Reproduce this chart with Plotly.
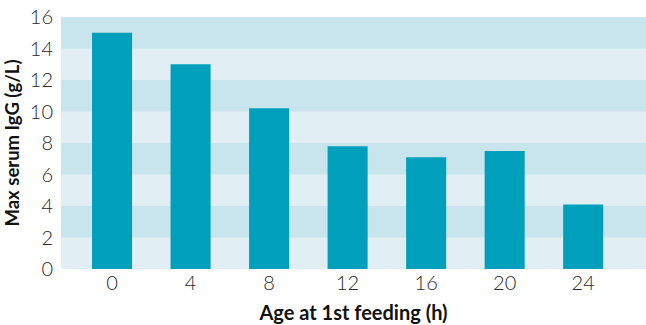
import plotly.graph_objects as go

ages = [0, 4, 8, 12, 16, 20, 24]
igg = [15.0, 13.0, 10.2, 7.8, 7.1, 7.5, 4.1]
y_ticks = [0, 2, 4, 6, 8, 10, 12, 14, 16]

bar_color = "#00a0bd"
band_dark = "#c8e4ec"
band_light = "#e1eff4"

fig = go.Figure()
fig.add_trace(go.Bar(x=ages, y=igg, width=2.04, marker=dict(color=bar_color, line=dict(width=0))))

shapes = []
for i in range(len(y_ticks) - 1):
    if i % 2 == 1:
        shapes.append(dict(type="rect", xref="paper", yref="y", x0=0, x1=1,
                           y0=y_ticks[i], y1=y_ticks[i + 1],
                           fillcolor=band_dark, line=dict(width=0), layer="below"))

fig.update_layout(
    width=646, height=325,
    margin=dict(l=61, r=0, t=17, b=56),
    paper_bgcolor="white",
    plot_bgcolor=band_light,
    shapes=shapes,
    showlegend=False,
    font=dict(family="Lato", color="#333333"),
    xaxis=dict(range=[-2.6, 27.2], tickvals=ages, ticktext=[str(a) for a in ages],
               showgrid=False, zeroline=False, showline=False, ticks="",
               tickfont=dict(size=20, family="Lato", weight=300, color="#2a2a2a"),
               title=dict(text="Age at 1st feeding (h)", standoff=12,
                          font=dict(size=20, family="Lato", weight="bold", color="#111111"))),
    yaxis=dict(range=[0, 16], tickvals=y_ticks, showgrid=False, zeroline=False,
               showline=False, ticks="", ticklabelstandoff=7,
               tickfont=dict(size=20, family="Lato", weight=300, color="#2a2a2a"),
               title=dict(text="Max serum IgG (g/L)", standoff=5,
                          font=dict(size=18.5, family="Lato", weight="bold", color="#111111"))),
)

fig.write_html(
    "out.html",
    config={"displayModeBar": False},
    post_script="document.body.style.margin='0';document.body.style.padding='0';"
                "document.body.style.overflow='hidden';document.documentElement.style.overflow='hidden';",
)
